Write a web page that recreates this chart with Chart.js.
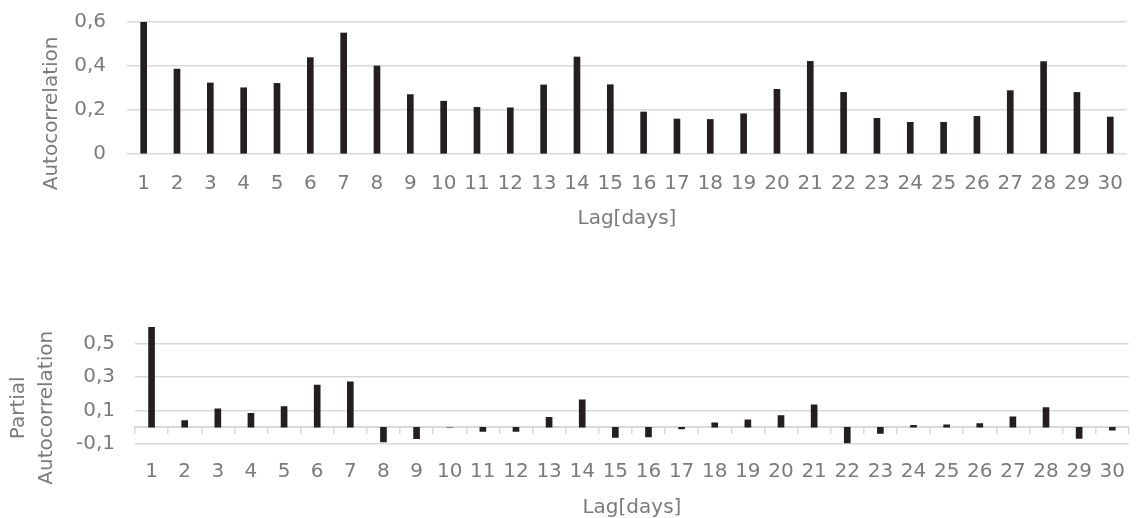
<!DOCTYPE html>
<html>
<head>
<meta charset="utf-8">
<script src="https://cdn.jsdelivr.net/npm/chart.js@4/dist/chart.umd.min.js"></script>
<style>
  html, body { margin: 0; padding: 0; background: #fff; }
  body { width: 1141px; height: 518px; position: relative; overflow: hidden; }
  .box { position: absolute; left: 0; width: 1141px; }
  #acfBox { top: 0; height: 240px; }
  #pacfBox { top: 290px; height: 228px; }
</style>
</head>
<body>
<div class="box" id="acfBox"><canvas id="acfChart" width="1141" height="240"></canvas></div>
<div class="box" id="pacfBox"><canvas id="pacfChart" width="1141" height="228"></canvas></div>
<script>
// lags 1..30
const lags = ['1','2','3','4','5','6','7','8','9','10','11','12','13','14','15','16','17','18','19','20','21','22','23','24','25','26','27','28','29','30'];

const acfValues = [0.60, 0.386, 0.323, 0.301, 0.321, 0.438, 0.55, 0.40, 0.27, 0.24,
  0.212, 0.21, 0.314, 0.441, 0.315, 0.191, 0.159, 0.157, 0.183, 0.294,
  0.421, 0.28, 0.162, 0.144, 0.144, 0.171, 0.288, 0.42, 0.28, 0.168];

const pacfValues = [0.60, 0.04, 0.11, 0.084, 0.124, 0.252, 0.272, -0.088, -0.068, 0,
  -0.025, -0.025, 0.06, 0.164, -0.06, -0.058, -0.01, 0.026, 0.044, 0.07,
  0.134, -0.094, -0.036, 0.012, 0.014, 0.022, 0.062, 0.118, -0.066, -0.018];

const acfTicks = [0, 0.2, 0.4, 0.6];
const pacfTicks = [-0.1, 0.1, 0.3, 0.5];

const xTitle = 'Lag[days]';
const acfTitle = 'Autocorrelation';
const pacfTitle = ['Partial', 'Autocorrelation'];

const textColor = '#7b7b7b';
const gridColor = '#d9d9d9';
const barColor = '#231f20';

Chart.defaults.font.family = '"DejaVu Sans", sans-serif';
Chart.defaults.font.size = 20;
Chart.defaults.color = textColor;

// pad a rotated title at its end so the visible text sits lower (like Excel)
const shiftDown = (s, n) => s + ' '.repeat(n);
const fmt = (v) => (v === 0 ? '0' : v.toFixed(1).replace('.', ','));

function baseOptions() {
  return {
    responsive: false,
    animation: false,
    plugins: { legend: { display: false }, tooltip: { enabled: false } },
  };
}

// === ACF ===
new Chart(document.getElementById('acfChart'), {
  type: 'bar',
  data: {
    labels: lags,
    datasets: [{ data: acfValues, backgroundColor: barColor, barThickness: 6 }],
  },
  options: {
    ...baseOptions(),
    layout: { padding: { top: 22, right: 1, bottom: 0, left: 0 } },
    scales: {
      x: {
        grid: { display: false, drawTicks: false },
        border: { display: false },
        ticks: { padding: 18, maxRotation: 0, autoSkip: false },
        title: { display: true, text: xTitle, padding: { top: 0, bottom: 9 } },
        afterFit: (s) => { s.height = 86; },
      },
      y: {
        min: 0,
        max: 0.6,
        afterBuildTicks: (s) => { s.ticks = acfTicks.map((v) => ({ value: v })); },
        // invisible tick marks give the gap between labels and plot
        grid: { color: gridColor, lineWidth: 1.5, drawTicks: true, tickLength: 21, tickColor: 'rgba(0,0,0,0)' },
        border: { display: false },
        ticks: { padding: 0, callback: (v) => fmt(v) },
        title: { display: true, text: shiftDown(acfTitle, 8), padding: { top: 40, bottom: 0 } },
        afterFit: (s) => { s.width = 127; },
      },
    },
  },
});

// === PACF ===
new Chart(document.getElementById('pacfChart'), {
  type: 'bar',
  data: {
    labels: lags,
    datasets: [{ data: pacfValues, backgroundColor: barColor, barThickness: 6 }],
  },
  options: {
    ...baseOptions(),
    layout: { padding: { top: 37, right: 0, bottom: 0, left: 0 } },
    scales: {
      x: {
        grid: { display: false, drawTicks: false },
        border: { display: false },
        ticks: { padding: 16, maxRotation: 0, autoSkip: false },
        title: { display: true, text: xTitle, padding: { top: 0, bottom: -2 } },
        afterFit: (s) => { s.height = 74; },
      },
      // zero line with tick marks between lags
      x0: {
        type: 'category',
        position: { y: 0 },
        z: 1,
        grid: { display: true, drawOnChartArea: false, drawTicks: true, tickLength: 6, color: gridColor, lineWidth: 1.5, offset: true },
        border: { display: true, color: gridColor, width: 2 },
        ticks: { display: false },
      },
      y: {
        min: -0.1,
        max: 0.6,
        afterBuildTicks: (s) => { s.ticks = pacfTicks.map((v) => ({ value: v })); },
        grid: { color: gridColor, lineWidth: 1.5, drawTicks: true, tickLength: 20, tickColor: 'rgba(0,0,0,0)' },
        border: { display: false },
        ticks: { padding: 0, callback: (v) => fmt(v) },
        title: {
          display: true,
          text: pacfTitle.map((t) => shiftDown(t, 7)),
          font: { lineHeight: 1.4 },
          padding: { top: 5, bottom: 0 },
        },
        afterFit: (s) => { s.width = 135; },
      },
    },
  },
});
</script>
</body>
</html>
